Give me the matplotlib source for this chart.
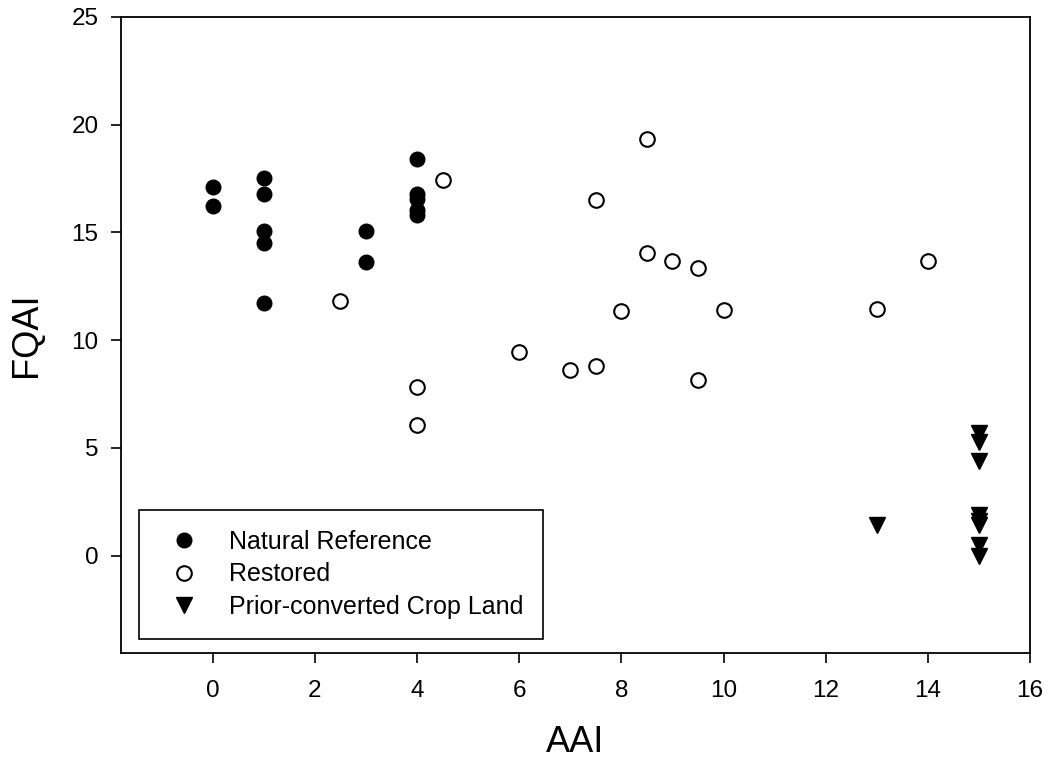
import matplotlib.pyplot as plt

plt.rcParams['font.family'] = ['Liberation Sans', 'DejaVu Sans']

# Natural reference wetlands
nat_aai = [0, 0, 1, 1, 1, 1, 1, 3, 3, 4, 4, 4, 4, 4]
nat_fqai = [17.1, 16.2, 17.5, 16.8, 15.05, 14.5, 11.7, 15.05, 13.6, 18.4, 16.8, 16.55, 16.05, 15.8]

# Restored wetlands
res_aai = [4.5, 2.5, 8.5, 7.5, 8.5, 9, 9.5, 8, 10, 13, 14, 6, 7, 7.5, 9.5, 4, 4]
res_fqai = [17.45, 11.8, 19.35, 16.5, 14.05, 13.65, 13.35, 11.35, 11.4, 11.45, 13.65,
            9.45, 8.6, 8.8, 8.15, 7.8, 6.05]

# Prior-converted crop land
crop_aai = [13, 15, 15, 15, 15, 15, 15, 15, 15]
crop_fqai = [1.4, 5.7, 5.25, 4.4, 1.9, 1.6, 1.4, 0.5, 0.0]

fig = plt.figure(figsize=(10.5, 7.65), dpi=100)
ax = fig.add_axes([0.115, 0.147, 0.866, 0.831])

ax.plot(nat_aai, nat_fqai, 'o', ls='none', color='black', markersize=10.5,
        label='Natural Reference')
ax.plot(res_aai, res_fqai, 'o', ls='none', markerfacecolor='white',
        markeredgecolor='black', markeredgewidth=1.5, markersize=10.5, label='Restored')
ax.plot(crop_aai, crop_fqai, 'v', ls='none', color='black', markersize=11,
        label='Prior-converted Crop Land')

ax.set_xlim(-1.8, 16)
ax.set_ylim(-4.5, 25)
ax.set_xticks(range(0, 17, 2))
ax.set_yticks(range(0, 26, 5))

for side in ax.spines.values():
    side.set_linewidth(1.3)
ax.tick_params(axis='both', direction='out', length=7, width=1.2, labelsize=17.5)
ax.tick_params(axis='x', pad=13)
ax.tick_params(axis='y', pad=9)

ax.set_xlabel('AAI', fontsize=26, labelpad=16)
ax.set_ylabel('FQAI', fontsize=26, labelpad=20)

leg = ax.legend(loc='lower left', bbox_to_anchor=(0.02, 0.021), borderaxespad=0,
                fontsize=18, frameon=True, fancybox=False, edgecolor='black',
                framealpha=1, borderpad=0.8, handlelength=2.0, handletextpad=0.8,
                labelspacing=0.35)
leg.get_frame().set_linewidth(1.2)

plt.savefig('out.png', dpi=100)
